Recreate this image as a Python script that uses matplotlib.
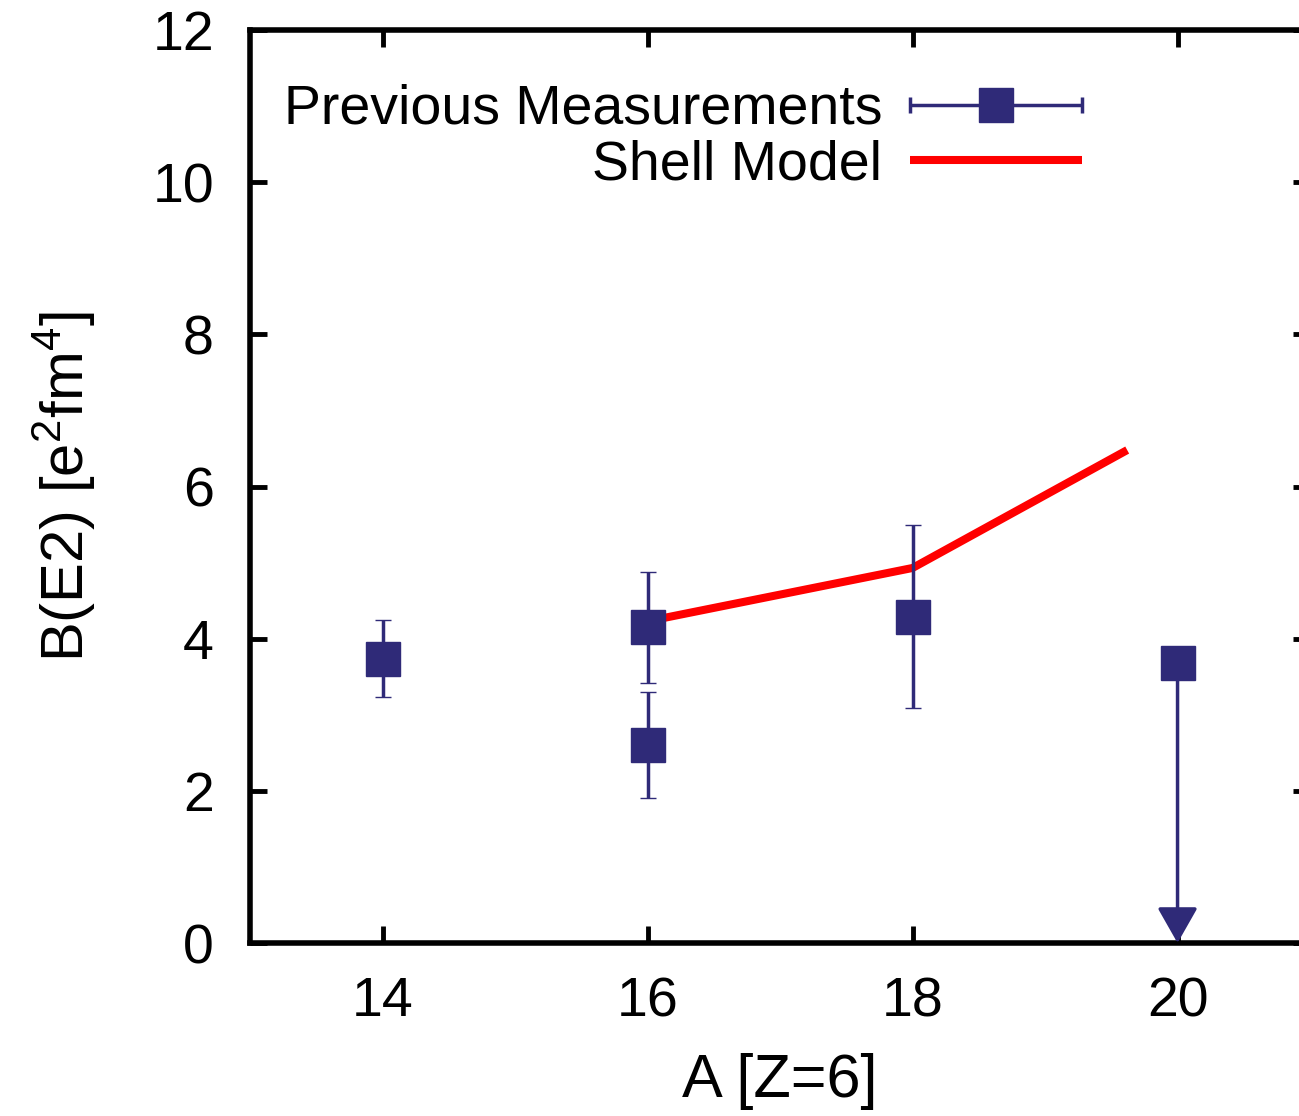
import numpy as np
import matplotlib
matplotlib.use("Agg")
import matplotlib.pyplot as plt
from matplotlib.legend_handler import HandlerErrorbar
from matplotlib.container import ErrorbarContainer

# measured B(E2) values for carbon isotopes
mass = [14, 16, 16, 18]
be2 = [3.74, 4.15, 2.60, 4.29]
be2_err = [0.50, 0.73, 0.70, 1.20]

# upper limit at A=20
limit_mass = 20
limit_value = 3.68

# shell model curve
sm_mass = [16, 18, 19.62]
sm_be2 = [4.23, 4.93, 6.48]

x_ticks = [14, 16, 18, 20]
y_ticks = [0, 2, 4, 6, 8, 10, 12]

navy = '#2f2a78'

plt.rcParams['font.family'] = ['Liberation Sans', 'DejaVu Sans']
plt.rcParams['mathtext.fontset'] = 'custom'
plt.rcParams['mathtext.rm'] = 'Liberation Sans'
plt.rcParams['mathtext.it'] = 'Liberation Sans:italic'


def main():
    fig = plt.figure(figsize=(12.99, 11.16), dpi=100)
    ax = fig.add_axes([0.1925, 0.155, 0.816, 0.818])

    ax.plot(sm_mass, sm_be2, color='red', lw=5.8, zorder=2, label='Shell Model',
            solid_capstyle='butt')

    ax.errorbar(mass, be2, yerr=be2_err, fmt='s', color=navy, ms=25, mec=navy,
                mew=1, elinewidth=2.5, capsize=6, capthick=2.5, zorder=3)
    ax.plot([limit_mass], [limit_value], 's', color=navy, ms=25, mec=navy, zorder=3)
    ax.annotate('', xy=(limit_mass, 0), xytext=(limit_mass, limit_value),
                arrowprops=dict(arrowstyle='-|>,head_length=2.2,head_width=1.25',
                                mutation_scale=10, color=navy, lw=2.5,
                                shrinkA=0, shrinkB=0), zorder=3)

    # legend proxy: horizontal error bar as in the original
    proxy = ax.errorbar([np.nan], [np.nan], xerr=[1], fmt='s', color=navy, ms=25,
                        mec=navy, elinewidth=2.5, capsize=6, capthick=2.5,
                        label='Previous Measurements')
    handles, labels = ax.get_legend_handles_labels()
    order = [labels.index('Previous Measurements'), labels.index('Shell Model')]
    ax.legend([handles[i] for i in order], [labels[i] for i in order],
              loc='upper right', bbox_to_anchor=(0.785, 0.941),
              frameon=False, markerfirst=False, fontsize=40,
              handlelength=3.1, handletextpad=0.5, labelspacing=0.06,
              borderpad=0, borderaxespad=0,
              handler_map={ErrorbarContainer: HandlerErrorbar(xerr_size=1.55)})

    ax.set_xlim(13, 21)
    ax.set_ylim(0, 12)
    ax.set_xticks(x_ticks)
    ax.set_yticks(y_ticks)
    ax.tick_params(direction='in', length=12, width=3.5, labelsize=40,
                   top=True, right=True)
    ax.tick_params(axis='y', pad=26)
    ax.tick_params(axis='x', pad=24)
    for s in ax.spines.values():
        s.set_linewidth(4)

    ax.set_xlabel('A [Z=6]', fontsize=44, labelpad=18)
    ax.set_ylabel(r'B(E2) [e$^2$fm$^4$]', fontsize=43, labelpad=39)

    fig.savefig('out.png', dpi=100)


if __name__ == "__main__":
    main()
